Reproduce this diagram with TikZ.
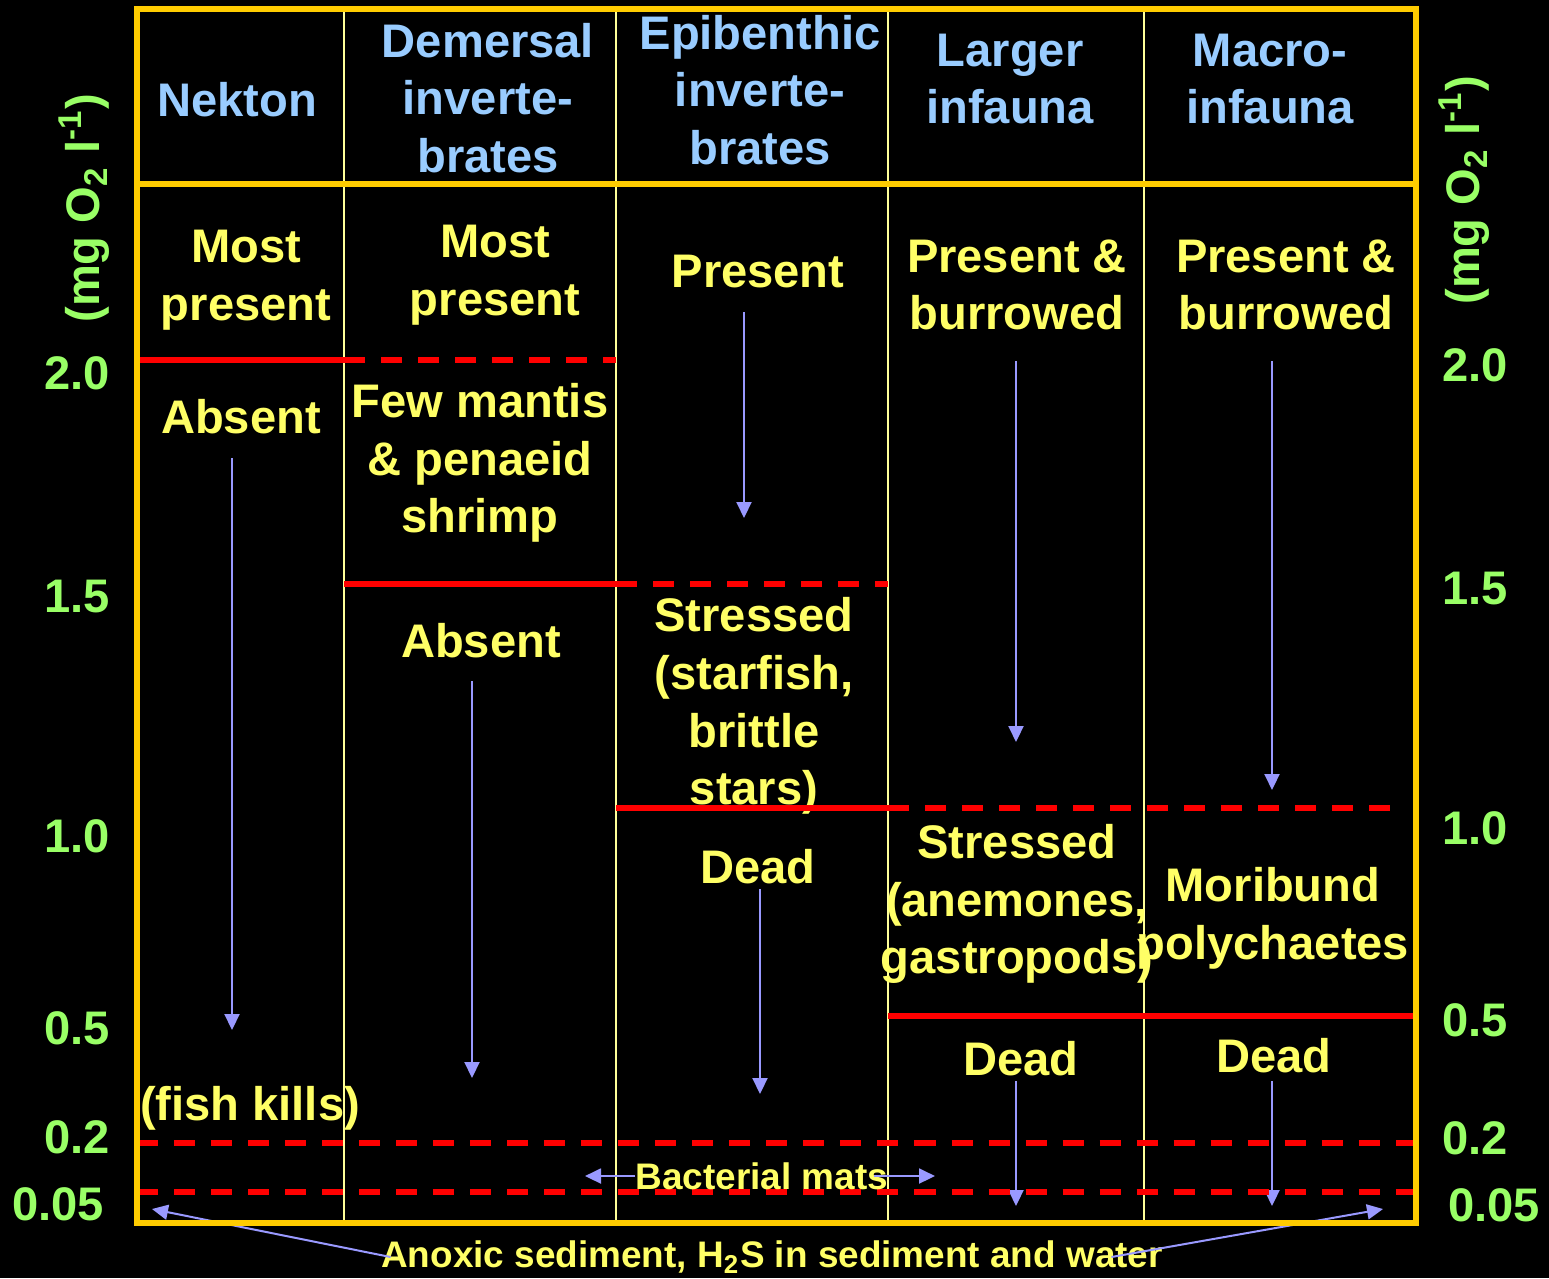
\documentclass[tikz,border=0pt]{standalone}
\usepackage{fontspec}
\setmainfont{Liberation Sans}
\usetikzlibrary{arrows.meta}
\definecolor{cFrame}{HTML}{FFCC00}
\definecolor{cDiv}{HTML}{FFFF99}
\definecolor{cHead}{HTML}{99CCFF}
\definecolor{cBody}{HTML}{FFFF66}
\definecolor{cAxis}{HTML}{99FF66}
\definecolor{cLim}{HTML}{FF0000}
\definecolor{cArr}{HTML}{9999FF}

\begin{document}
\begin{tikzpicture}[
    x=0.01cm, y=-0.01cm, font=\bfseries\fontsize{13.4}{16.4}\selectfont,
    frame/.style={draw=cFrame, line width=1.7pt},
    coldiv/.style={draw=cDiv, line width=0.6pt},
    limit/.style={draw=cLim, line width=1.45pt},
    limdash/.style={limit, dash pattern=on 0.21cm off 0.16cm},
    head/.style={text=cHead, align=center, inner sep=0pt},
    txt/.style={text=cBody, align=center, inner sep=0pt},
    small/.style={text=cBody, inner sep=0pt, font=\bfseries\fontsize{10.5}{12}\selectfont},
    axis/.style={text=cAxis, inner sep=0pt},
    down/.style={-{Triangle[length=0.16cm, width=0.15cm]}, draw=cArr, fill=cArr, line width=0.57pt},
]

% ===================== Fondo =====================
\fill[black] (0,0) rectangle (1549,1278);
\useasboundingbox (0,0) rectangle (1549,1278);

% ===================== Columnas =====================
\draw[coldiv] (344,9) -- (344,1223);
\draw[coldiv] (616,9) -- (616,1223);
\draw[coldiv] (888,9) -- (888,1223);
\draw[coldiv] (1144,9) -- (1144,1223);

% ===================== Cabecera =====================
\node[head] (nkHead) at (237,100) {Nekton};
\node[head] (dmHead) at (488,98) {Demersal\\inverte-\\brates};
\node[head] (epHead) at (760,90) {Epibenthic\\inverte-\\brates};
\node[head] (lgHead) at (1010,79) {Larger\\infauna};
\node[head] (mcHead) at (1270,79) {Macro-\\infauna};

% ===================== Nekton =====================
\node[txt] (nkMost) at (246,280) {Most\\present};
\node[txt] (nkAbs) at (241,417) {Absent};
\node[txt] (nkKill) at (250,1108) {(fish kills)};
\coordinate (nkEnd) at (232,1030);
\draw[down, shorten <=0.23cm] (nkAbs.south -| nkEnd) -- (nkEnd);

% ===================== Demersal =====================
\node[txt] (dmMost) at (495,275) {Most\\present};
\node[txt] (dmFew) at (480,463) {Few mantis\\\& penaeid\\shrimp};
\node[txt] (dmAbs) at (481,641) {Absent};
\coordinate (dmEnd) at (472,1078);
\draw[down, shorten <=0.22cm] (dmAbs.south -| dmEnd) -- (dmEnd);

% ===================== Epibenthic =====================
\node[txt] (epPres) at (758,272) {Present};
\coordinate (epEnd) at (744,518);
\draw[down, shorten <=0.23cm] (epPres.south -| epEnd) -- (epEnd);
\node[txt] (epStr) at (754,706) {Stressed\\(starfish,\\brittle\\stars)};
\node[txt] (epDead) at (758,867) {Dead};
\coordinate (epDEnd) at (760,1094);
\draw[down, shorten <=0.04cm] (epDead.south -| epDEnd) -- (epDEnd);

% ===================== Larger infauna =====================
\node[txt] (lgPres) at (1017,285) {Present \&\\burrowed};
\coordinate (lgEnd) at (1016,742);
\draw[down, shorten <=0.30cm] (lgPres.south -| lgEnd) -- (lgEnd);
\node[txt] (lgStr) at (1017,904) {Stressed\\(anemones,\\gastropods)};
\node[txt] (lgDead) at (1021,1059) {Dead};
\coordinate (lgDEnd) at (1016,1206);
\draw[down, shorten <=0.04cm] (lgDead.south -| lgDEnd) -- (lgDEnd);

% ===================== Macro-infauna =====================
\node[txt] (mcPres) at (1286,285) {Present \&\\burrowed};
\coordinate (mcEnd) at (1272,790);
\draw[down, shorten <=0.30cm] (mcPres.south -| mcEnd) -- (mcEnd);
\node[txt] (mcMor) at (1273,918) {Moribund\\polychaetes};
\node[txt] (mcDead) at (1274,1056) {Dead};
\coordinate (mcDEnd) at (1272,1206);
\draw[down, shorten <=0.07cm] (mcDead.south -| mcDEnd) -- (mcDEnd);

% ===================== Limites de O2 =====================
\draw[limit] (137,360) -- (344,360);
\draw[limdash] (344,360) -- (616,360);
\draw[limit] (344,584) -- (616,584);
\draw[limdash] (616,584) -- (888,584);
\draw[limit] (616,808) -- (888,808);
\draw[limdash] (888,808) -- (1392,808);
\draw[limit] (888,1016) -- (1416,1016);
\draw[limdash] (137,1143) -- (1416,1143);
\draw[limdash] (137,1192) -- (1416,1192);

% ===================== Fondo: tapetes y sedimento =====================
\node[small] (bact) at (762,1176) {Bacterial mats};
\coordinate (bactL) at (585,1176);
\coordinate (bactR) at (935,1176);
\draw[down] (bact.west) -- (bactL);
\draw[down] ([xshift=-0.15cm]bact.east) -- (bactR);

\node[small] (anox) at (772,1257)
      {Anoxic sediment, H\textsubscript{2}S in sediment and water};
\coordinate (anoxL) at (152,1209);
\coordinate (anoxR) at (1383,1209);
\draw[down] ([xshift=0.1cm]anox.west) -- (anoxL);
\draw[down] ([xshift=-0.52cm]anox.east) -- (anoxR);

% ===================== Marco =====================
\draw[frame] (137,9) rectangle (1416,1223);
\draw[frame] (137,184) -- (1416,184);

% ===================== Escala izquierda =====================
\node[axis, rotate=90] (unitL) at (84,208) {(mg O\textsubscript{2} l\textsuperscript{-1})};
\node[axis] (l20) at (77,373) {2.0};
\node[axis] (l15) at (77,597) {1.5};
\node[axis] (l10) at (77,836) {1.0};
\node[axis] (l05) at (77,1028) {0.5};
\node[axis] (l02) at (77,1137) {0.2};
\node[axis] (l005) at (58,1204) {0.05};

% ===================== Escala derecha =====================
\node[axis, rotate=90] (unitR) at (1464,190) {(mg O\textsubscript{2} l\textsuperscript{-1})};
\node[axis] (r20) at (1475,365) {2.0};
\node[axis] (r15) at (1475,589) {1.5};
\node[axis] (r10) at (1475,828) {1.0};
\node[axis] (r05) at (1475,1020) {0.5};
\node[axis] (r02) at (1475,1138) {0.2};
\node[axis] (r005) at (1494,1205) {0.05};

\end{tikzpicture}
\end{document}
